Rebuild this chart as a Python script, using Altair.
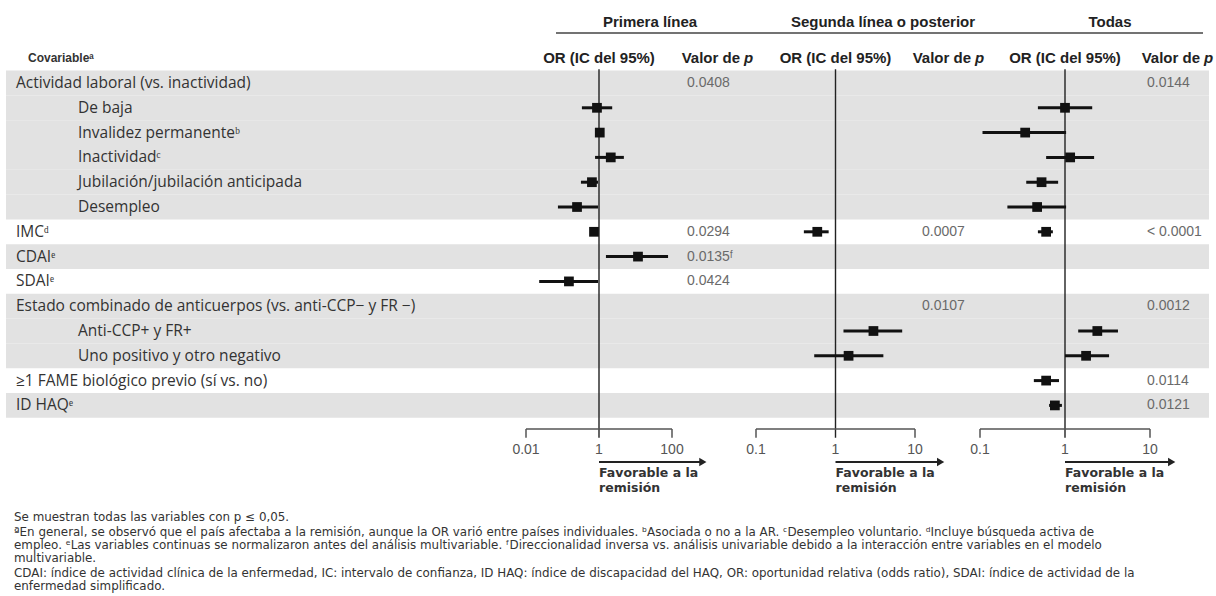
import altair as alt
import pandas as pd

# ---------------- data ----------------
row_labels = [
    "Actividad laboral (vs. inactividad)",
    "De baja",
    "Invalidez permanenteᵇ",
    "Inactividadᶜ",
    "Jubilación/jubilación anticipada",
    "Desempleo",
    "IMCᵈ",
    "CDAIᵉ",
    "SDAIᵉ",
    "Estado combinado de anticuerpos (vs. anti-CCP− y FR −)",
    "Anti-CCP+ y FR+",
    "Uno positivo y otro negativo",
    "≥1 FAME biológico previo (sí vs. no)",
    "ID HAQᵉ",
]
row_index = list(range(1, 15))
row_indent = [0, 1, 1, 1, 1, 1, 0, 0, 0, 0, 1, 1, 0, 0]
row_shaded = [1, 1, 1, 1, 1, 1, 0, 1, 0, 1, 1, 1, 0, 1]

group_titles = ["Primera línea", "Segunda línea o posterior", "Todas"]

# Primera línea
p1_rows = [2, 3, 4, 5, 6, 7, 8, 9]
p1_or = [0.88, 1.05, 2.1, 0.64, 0.25, 0.73, 11.7, 0.15]
p1_lo = [0.34, 0.97, 0.78, 0.32, 0.075, 0.68, 1.55, 0.023]
p1_hi = [2.3, 1.12, 4.8, 0.94, 0.94, 0.79, 78.0, 0.94]
p1_p_rows = [1, 7, 8, 9]
p1_p = ["0.0408", "0.0294", "0.0135ᶠ", "0.0424"]
p1_ticks = [0.01, 1, 100]
p1_tick_labels = ["0.01", "1", "100"]

# Segunda línea o posterior
p2_rows = [7, 11, 12]
p2_or = [0.59, 3.0, 1.46]
p2_lo = [0.40, 1.26, 0.54]
p2_hi = [0.82, 6.9, 4.0]
p2_p_rows = [7, 10]
p2_p = ["0.0007", "0.0107"]
p2_ticks = [0.1, 1, 10]
p2_tick_labels = ["0.1", "1", "10"]

# Todas
p3_rows = [2, 3, 4, 5, 6, 7, 11, 12, 13, 14]
p3_or = [1.0, 0.34, 1.15, 0.53, 0.47, 0.60, 2.4, 1.77, 0.60, 0.76]
p3_lo = [0.48, 0.107, 0.60, 0.35, 0.21, 0.48, 1.43, 1.0, 0.43, 0.65]
p3_hi = [2.09, 1.03, 2.2, 0.83, 1.03, 0.72, 4.2, 3.3, 0.85, 0.92]
p3_p_rows = [1, 7, 10, 13, 14]
p3_p = ["0.0144", "< 0.0001", "0.0012", "0.0114", "0.0121"]
p3_ticks = [0.1, 1, 10]
p3_tick_labels = ["0.1", "1", "10"]

footnotes = [
    "Se muestran todas las variables con p ≤ 0,05.",
    "ªEn general, se observó que el país afectaba a la remisión, aunque la OR varió entre países individuales. ᵇAsociada o no a la AR. ᶜDesempleo voluntario. ᵈIncluye búsqueda activa de",
    "empleo. ᵉLas variables continuas se normalizaron antes del análisis multivariable. ᶠDireccionalidad inversa vs. análisis univariable debido a la interacción entre variables en el modelo",
    "multivariable.",
    "CDAI: índice de actividad clínica de la enfermedad, IC: intervalo de confianza, ID HAQ: índice de discapacidad del HAQ, OR: oportunidad relativa (odds ratio), SDAI: índice de actividad de la",
    "enfermedad simplificado.",
]

# ---------------- styling ----------------
LABEL_FONT = "Open Sans"
HEAD_FONT = "Liberation Sans"
NOTE_FONT = "DejaVu Sans"
INK = "#111111"
TXT = "#333333"
GREY_TXT = "#6a6a6a"
BAND = "#e2e2e2"

ys = alt.Scale(domain=[1, 14], range=[83, 405.4], zero=False, nice=False)


def Y(f):
    return alt.Y(f, type="quantitative", scale=ys, axis=None)


layers = []

# shaded bands
band_df = pd.DataFrame({"row": [r for r, s in zip(row_index, row_shaded) if s]})
layers.append(
    alt.Chart(band_df)
    .mark_rect(color=BAND)
    .transform_calculate(y0="datum.row - 0.5", y1="datum.row + 0.5")
    .encode(x=alt.value(6), x2=alt.value(1209), y=Y("y0"), y2="y1")
)

# row labels
lab_df = pd.DataFrame({"row": row_index, "label": row_labels, "indent": row_indent})
for ind, xpos in [(0, 16), (1, 78)]:
    layers.append(
        alt.Chart(lab_df[lab_df["indent"] == ind])
        .mark_text(align="left", baseline="middle", font=LABEL_FONT, fontSize=15.5, color=TXT)
        .encode(x=alt.value(xpos), y=Y("row"), text="label:N")
    )

# header "Covariable"
layers.append(
    alt.Chart(pd.DataFrame({"row": [0], "t": ["Covariableᵃ"]}))
    .mark_text(align="left", baseline="middle", font=HEAD_FONT, fontSize=12, fontWeight="bold", color=TXT)
    .encode(x=alt.value(28), y=Y("row"), text="t:N")
)

# group titles + underline
for t, xc in zip(group_titles, [650, 883, 1110]):
    layers.append(
        alt.Chart(pd.DataFrame({"t": [t], "row": [-1.46]}))
        .mark_text(align="center", baseline="middle", font=HEAD_FONT, fontSize=15, fontWeight="bold", color="#222")
        .encode(x=alt.value(xc), y=Y("row"), text="t:N")
    )
layers.append(
    alt.Chart(pd.DataFrame({"row": [-1.02]}))
    .mark_rule(color="#444", strokeWidth=1.5)
    .encode(x=alt.value(556), x2=alt.value(1203), y=Y("row"))
)


def panel(scale, rows, ors, los, his, ticks, tick_labels, arrow_end, p_rows, p_vals, p_x, vp_x):
    def X(f):
        return alt.X(f, type="quantitative", scale=scale, axis=None)

    out = []
    df = pd.DataFrame({"row": rows, "est": ors, "lo": los, "hi": his})
    # reference line
    out.append(
        alt.Chart(pd.DataFrame({"x": [1], "y0": [0.45], "y1": [15.3]}))
        .mark_rule(color="#222", strokeWidth=1.4)
        .encode(x=X("x"), y=Y("y0"), y2="y1")
    )
    # whiskers + boxes
    out.append(
        alt.Chart(df).mark_rule(color=INK, strokeWidth=3).encode(x=X("lo"), x2="hi", y=Y("row"))
    )
    out.append(
        alt.Chart(df)
        .mark_square(color=INK, size=95, opacity=1)
        .encode(x=X("est"), y=Y("row"))
    )
    # bracket axis
    out.append(
        alt.Chart(pd.DataFrame({"a": [ticks[0]], "b": [ticks[-1]], "row": [14.95]}))
        .mark_rule(color="#555", strokeWidth=1.5)
        .encode(x=X("a"), x2="b", y=Y("row"))
    )
    out.append(
        alt.Chart(pd.DataFrame({"x": [ticks[0], ticks[-1]], "y0": [14.95] * 2, "y1": [15.3] * 2}))
        .mark_rule(color="#555", strokeWidth=1.5)
        .encode(x=X("x"), y=Y("y0"), y2="y1")
    )
    out.append(
        alt.Chart(pd.DataFrame({"x": ticks, "t": tick_labels, "row": [15.8] * len(ticks)}))
        .mark_text(align="center", baseline="middle", font=HEAD_FONT, fontSize=14, color="#555")
        .encode(x=X("x"), y=Y("row"), text="t:N")
    )
    # arrow
    out.append(
        alt.Chart(pd.DataFrame({"a": [1], "b": [arrow_end], "row": [16.28]}))
        .mark_rule(color="#222", strokeWidth=2)
        .encode(x=X("a"), x2="b", y=Y("row"))
    )
    out.append(
        alt.Chart(pd.DataFrame({"x": [arrow_end], "row": [16.28]}))
        .mark_point(shape="triangle-right", filled=True, color="#222", size=70, opacity=1)
        .encode(x=X("x"), y=Y("row"))
    )
    out.append(
        alt.Chart(pd.DataFrame({"x": [1, 1], "t": ["Favorable a la", "remisión"], "row": [16.72, 17.32]}))
        .mark_text(align="left", baseline="middle", font=NOTE_FONT, fontSize=12.5, fontWeight="bold", color="#333")
        .encode(x=X("x"), y=Y("row"), text="t:N")
    )
    # column header OR
    out.append(
        alt.Chart(pd.DataFrame({"x": [1], "t": ["OR (IC del 95%)"], "row": [0]}))
        .mark_text(align="center", baseline="middle", font=HEAD_FONT, fontSize=15, fontWeight="bold", color="#222")
        .encode(x=X("x"), y=Y("row"), text="t:N")
    )
    # column header p
    out.append(
        alt.Chart(pd.DataFrame({"t": ["Valor de"], "row": [0]}))
        .mark_text(align="right", baseline="middle", font=HEAD_FONT, fontSize=15, fontWeight="bold", color="#222")
        .encode(x=alt.value(vp_x - 4), y=Y("row"), text="t:N")
    )
    out.append(
        alt.Chart(pd.DataFrame({"t": ["p"], "row": [0]}))
        .mark_text(align="left", baseline="middle", font=HEAD_FONT, fontSize=15, fontWeight="bold",
                   fontStyle="italic", color="#222")
        .encode(x=alt.value(vp_x), y=Y("row"), text="t:N")
    )
    # p values
    out.append(
        alt.Chart(pd.DataFrame({"row": p_rows, "t": p_vals}))
        .mark_text(align="left", baseline="middle", font=HEAD_FONT, fontSize=14, color=GREY_TXT)
        .encode(x=alt.value(p_x), y=Y("row"), text="t:N")
    )
    return out


xs1 = alt.Scale(type="log", domain=[0.01, 100], range=[526, 672], nice=False)
xs2 = alt.Scale(type="log", domain=[0.1, 10], range=[756, 915], nice=False)
xs3 = alt.Scale(type="log", domain=[0.1, 10], range=[980, 1150], nice=False)

layers += panel(xs1, p1_rows, p1_or, p1_lo, p1_hi, p1_ticks, p1_tick_labels, 700, p1_p_rows, p1_p, 687, 744)
layers += panel(xs2, p2_rows, p2_or, p2_lo, p2_hi, p2_ticks, p2_tick_labels, 21, p2_p_rows, p2_p, 922, 975)
layers += panel(xs3, p3_rows, p3_or, p3_lo, p3_hi, p3_ticks, p3_tick_labels, 18, p3_p_rows, p3_p, 1147, 1204)

# footnotes
fn_y = [517, 532, 545, 558, 573, 586]
layers.append(
    alt.Chart(pd.DataFrame({"t": footnotes, "y": fn_y}))
    .mark_text(align="left", baseline="middle", font=NOTE_FONT, fontSize=11.9, color="#333")
    .encode(x=alt.value(14), y=alt.Y("y:Q", scale=alt.Scale(domain=[0, 596], range=[0, 596]), axis=None), text="t:N")
)

chart = (
    alt.layer(*layers)
    .resolve_scale(x="independent", y="independent")
    .properties(width=1216, height=596, padding=0, autosize=alt.AutoSizeParams(type="none"), background="white")
    .configure_view(stroke=None)
)

chart.save("out.html", embed_options={"renderer": "svg", "actions": False})
